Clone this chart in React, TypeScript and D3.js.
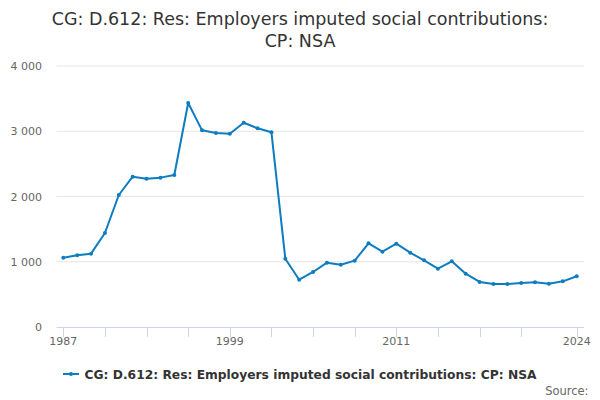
import React from "react";
import * as d3 from "d3";

const years: number[] = d3.range(1987, 2025);
const values: number[] = [
  1062, 1099, 1124, 1441, 2023, 2304, 2273, 2289, 2330, 3433,
  3014, 2973, 2963, 3131, 3045, 2984, 1047, 725, 843, 986,
  955, 1017, 1282, 1155, 1277, 1139, 1022, 894, 1006, 817,
  690, 659, 659, 674, 684, 664, 700, 777,
];
const yTicks: number[] = [0, 1000, 2000, 3000, 4000];
const xTickYears: number[] = [1987, 1990, 1993, 1996, 1999, 2002, 2005, 2008, 2011, 2014, 2017, 2020, 2024];
const xLabelYears: number[] = [1987, 1999, 2011, 2024];
const titleLines: string[] = ["CG: D.612: Res: Employers imputed social contributions:", "CP: NSA"];
const seriesName = "CG: D.612: Res: Employers imputed social contributions: CP: NSA";

const W = 600, H = 400;
const left = 56.5, right = 584, top = 66, bottom = 327;
const color = "#0e7cc0";
const font = "'DejaVu Sans', Verdana, sans-serif";

export default function App() {
  const x = d3.scaleLinear().domain([1987, 2024]).range([63.3, 576.7]);
  const y = d3.scaleLinear().domain([0, 4000]).range([bottom, top]);
  const line = d3.line<number>().x((_, i) => x(years[i])).y((d) => y(d));
  const fmt = (v: number) => d3.format(",")(v).replace(/,/g, " ");
  return (
    <svg width={W} height={H} style={{ position: "absolute", left: 0, top: 0, fontFamily: font }}>
      <rect width={W} height={H} fill="#fff" />
      {titleLines.map((t, i) => (
        <text key={i} x={300} y={25 + i * 22} textAnchor="middle" fontSize={17.5} fill="#333">{t}</text>
      ))}
      {yTicks.map((t) => (
        <g key={t}>
          {t > 0 && <line x1={left} x2={right} y1={y(t)} y2={y(t)} stroke="#e6e6e6" strokeWidth={1} />}
          <text x={42} y={y(t) + 4} textAnchor="end" fontSize={11} fill="#666">{fmt(t)}</text>
        </g>
      ))}
      <line x1={left} x2={right} y1={bottom + 0.5} y2={bottom + 0.5} stroke="#ccd6eb" strokeWidth={1} />
      {xTickYears.map((yr) => (
        <line key={yr} x1={Math.round(x(yr)) + 0.5} x2={Math.round(x(yr)) + 0.5} y1={bottom} y2={bottom + 10} stroke="#ccd6eb" strokeWidth={1} />
      ))}
      {xLabelYears.map((yr) => (
        <text key={yr} x={x(yr)} y={345} textAnchor="middle" fontSize={11} fill="#666">{yr}</text>
      ))}
      <path d={line(values) || ""} fill="none" stroke={color} strokeWidth={2} strokeLinejoin="round" />
      {values.map((v, i) => (
        <circle key={i} cx={x(years[i])} cy={y(v)} r={2} fill={color} />
      ))}
      <g>
        <line x1={63} x2={79} y1={374} y2={374} stroke={color} strokeWidth={2} />
        <circle cx={71} cy={374} r={2} fill={color} />
        <text x={84.5} y={378.5} fontSize={12.5} fontWeight="bold" fill="#333" textLength={452} lengthAdjust="spacingAndGlyphs">{seriesName}</text>
      </g>
      <text x={588.5} y={395} textAnchor="end" fontSize={11.5} fill="#666">Source:</text>
    </svg>
  );
}
